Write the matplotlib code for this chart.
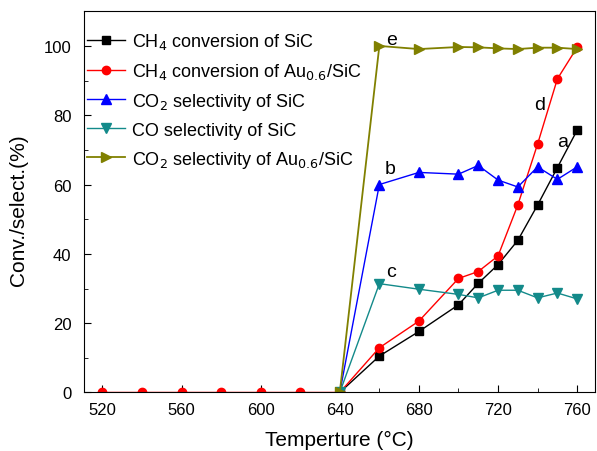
import numpy as np
import matplotlib
matplotlib.use("Agg")
import matplotlib.pyplot as plt
from matplotlib.ticker import MultipleLocator

plt.rcParams['font.family'] = ['Liberation Sans', 'DejaVu Sans']

# data
temp_low = [520, 540, 560, 580, 600, 620, 640]
temp_high = [640, 660, 680, 700, 710, 720, 730, 740, 750, 760]

ch4_sic = [0, 10.5, 17.6, 25.3, 31.5, 36.9, 43.9, 54.1, 64.9, 75.7]
ch4_au = [0, 12.9, 20.6, 32.9, 34.9, 39.4, 54.1, 71.7, 90.5, 99.6]
co2_sic = [0, 60.0, 63.5, 63.0, 65.5, 61.3, 59.3, 65.1, 61.5, 65.1]
co_sic = [0, 31.4, 29.8, 28.3, 27.3, 29.5, 29.5, 27.3, 28.7, 27.0]
co2_au = [0, 100.0, 99.1, 99.7, 99.6, 99.3, 99.1, 99.5, 99.5, 99.1]
zeros_low = [0, 0, 0, 0, 0, 0, 0]

fig = plt.figure(figsize=(5.97, 4.52), dpi=100)
ax = fig.add_axes([0.1407, 0.1295, 0.8559, 0.8433])

ms = 6
ax.plot(temp_high, ch4_sic, '-s', color='black', lw=1, ms=ms, label='CH$_4$ conversion of SiC')
ax.plot(temp_low + temp_high[1:], zeros_low + ch4_au[1:], '-o', color='red', lw=1, ms=ms,
        label='CH$_4$ conversion of Au$_{0.6}$/SiC')
ax.plot(temp_high, co2_sic, '-^', color='blue', lw=1, ms=ms + 1, label='CO$_2$ selectivity of SiC')
ax.plot(temp_high, co_sic, '-v', color='#138a8a', lw=1, ms=ms + 1, label='CO selectivity of SiC')
ax.plot(temp_high, co2_au, '->', color='#808000', lw=1.3, ms=ms + 1,
        label='CO$_2$ selectivity of Au$_{0.6}$/SiC')

ax.text(752.5, 72.5, 'a', fontsize=14, ha='center', va='center')
ax.text(665.5, 64.5, 'b', fontsize=14, ha='center', va='center')
ax.text(666, 35, 'c', fontsize=14, ha='center', va='center')
ax.text(741, 83, 'd', fontsize=14, ha='center', va='center')
ax.text(666, 102, 'e', fontsize=14, ha='center', va='center')

ax.set_xlim(510.7, 769)
ax.set_ylim(0, 110)
ax.xaxis.set_major_locator(MultipleLocator(40))
ax.xaxis.set_minor_locator(MultipleLocator(20))
ax.yaxis.set_major_locator(MultipleLocator(20))
ax.yaxis.set_minor_locator(MultipleLocator(10))
ax.tick_params(which='both', direction='in', top=False, right=False, labelsize=12)
ax.tick_params(which='major', length=5)
ax.tick_params(which='minor', length=3)
ax.tick_params(axis='x', pad=7)
ax.tick_params(axis='y', pad=9)
ax.set_xlabel('Temperture (°C)', fontsize=15, labelpad=9)
ax.set_ylabel('Conv./select.(%)', fontsize=15, labelpad=12)
ax.yaxis.set_label_coords(-0.11, 0.48)

ax.legend(loc='upper left', frameon=False, fontsize=13, handlelength=2.1, handletextpad=0.4,
          labelspacing=0.55, borderaxespad=0.2, bbox_to_anchor=(-0.015, 0.977))

fig.savefig('out.png', dpi=100)
